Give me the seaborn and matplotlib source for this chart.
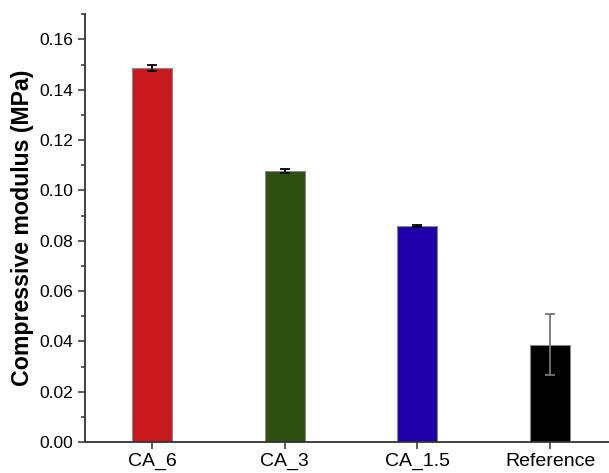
import numpy as np
import pandas as pd
import seaborn as sns
import matplotlib.pyplot as plt
from matplotlib.ticker import MultipleLocator

samples = ['CA_6', 'CA_3', 'CA_1.5', 'Reference']
modulus = [0.1487, 0.1077, 0.0858, 0.0387]
modulus_err = [0.0011, 0.0008, 0.0004, 0.0121]
bar_colors = ['#C8191E', '#2D4F10', '#1F00A8', '#000000']
err_colors = ['black', 'black', 'black', '#777777']

sns.set_style('ticks')
plt.rcParams['font.family'] = ['Liberation Sans', 'DejaVu Sans']
plt.rcParams['text.color'] = 'black'
plt.rcParams['axes.labelcolor'] = 'black'
plt.rcParams['xtick.labelcolor'] = 'black'
plt.rcParams['ytick.labelcolor'] = 'black'

df = pd.DataFrame({'sample': samples, 'modulus': modulus})

fig = plt.figure(figsize=(6.09, 4.73), dpi=100)
ax = fig.add_axes([0.1396, 0.0655, 0.8604, 0.9045])

sns.barplot(data=df, x='sample', y='modulus', hue='sample', palette=bar_colors,
            saturation=1, width=0.3, edgecolor='#888888', linewidth=0.8,
            legend=False, ax=ax)

# 误差线
for i, (v, e, c) in enumerate(zip(modulus, modulus_err, err_colors)):
    ax.errorbar(i, v, yerr=e, fmt='none', ecolor=c, elinewidth=1.3, capsize=3.3, capthick=1.3)

ax.set_xlim(-0.505, 3.444)
ax.set_ylim(0, 0.17)
ax.yaxis.set_major_locator(MultipleLocator(0.02))
ax.yaxis.set_minor_locator(MultipleLocator(0.01))
ax.yaxis.set_major_formatter(plt.FuncFormatter(lambda v, p: '%.2f' % v))

ax.set_xlabel('')
ax.set_ylabel('Compressive modulus (MPa)', fontsize=16.7, fontweight='bold', labelpad=4)
ax.tick_params(axis='y', which='major', labelsize=12.5, length=5, width=1.1, color='#333333')
ax.tick_params(axis='y', which='minor', length=3, width=1.1, color='#333333')
ax.tick_params(axis='x', labelsize=14, length=5, width=1.1, color='#333333', pad=3)

sns.despine(ax=ax)
for s in ['left', 'bottom']:
    ax.spines[s].set_linewidth(1.3)
    ax.spines[s].set_color('#333333')

plt.savefig('out.png', dpi=100)
